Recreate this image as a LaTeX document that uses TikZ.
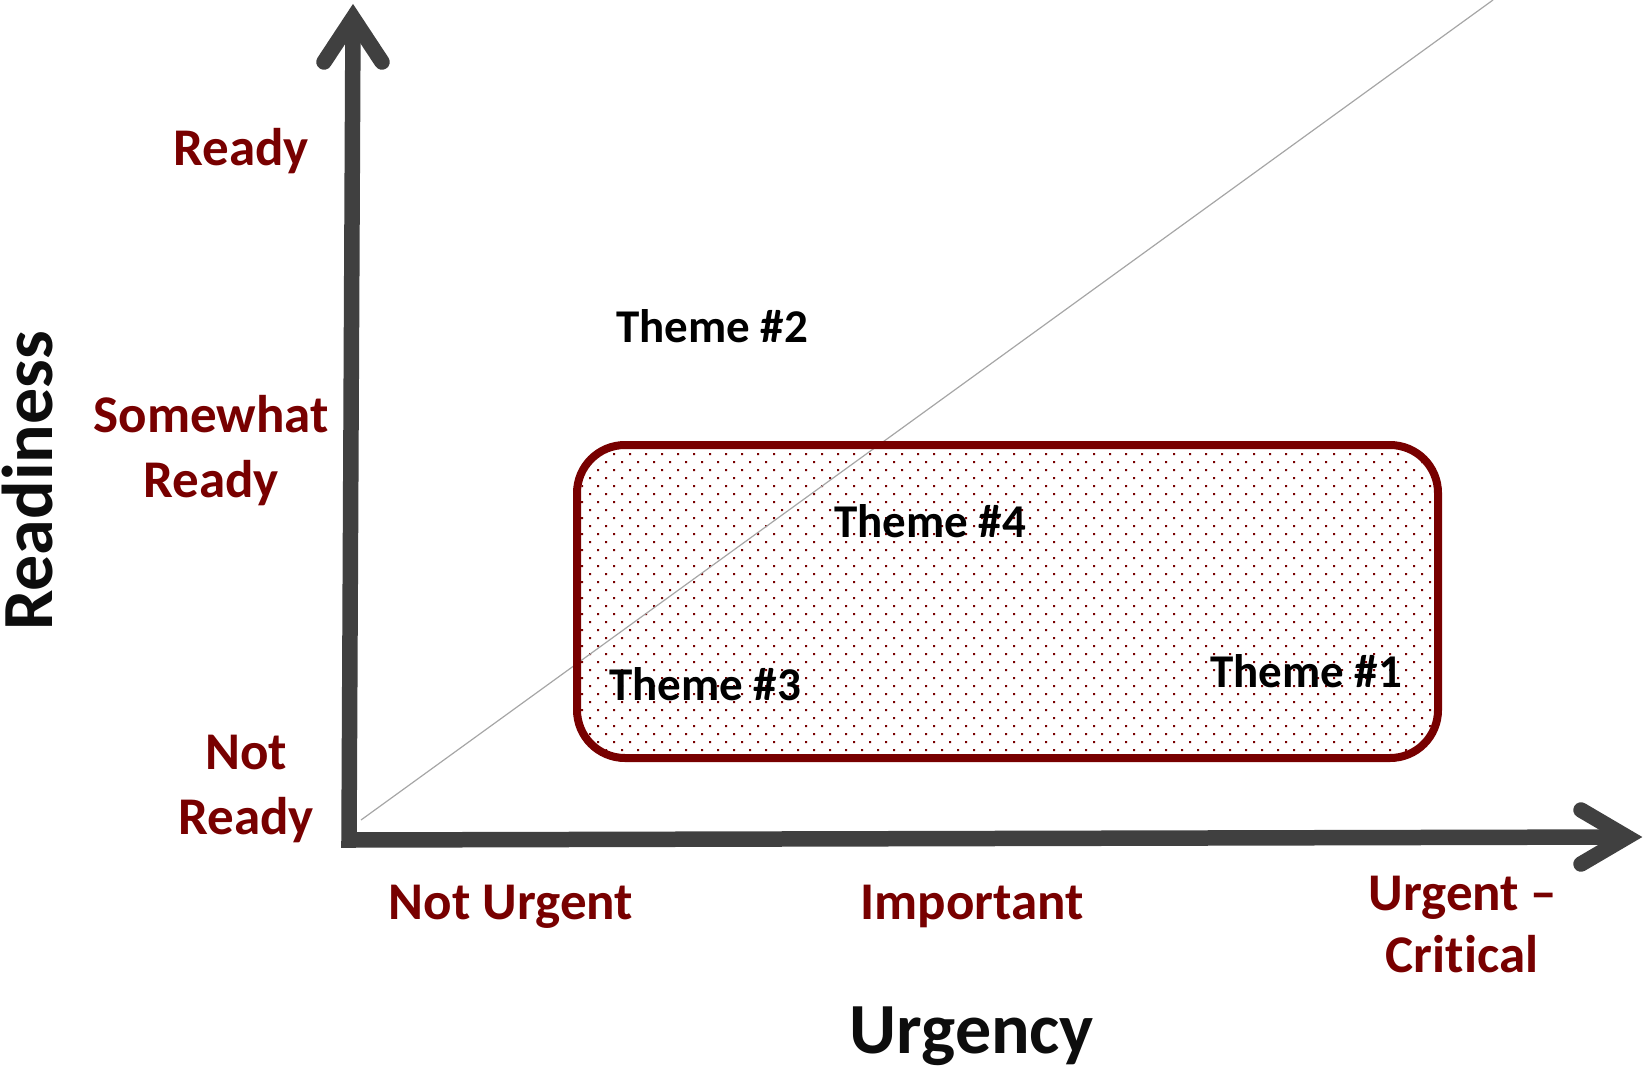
\documentclass[tikz,border=0pt]{standalone}
\usepackage{fontspec}
\setmainfont{Carlito}[Ligatures={NoCommon,TeX}]
\definecolor{dred}{RGB}{120,0,0}
\definecolor{axisgray}{RGB}{64,64,64}
\definecolor{diaggray}{RGB}{166,166,166}
\tikzset{
  lab/.style={font=\fontsize{53}{60}\selectfont\bfseries, text=dred, inner sep=0pt, anchor=base},
  theme/.style={font=\fontsize{47}{54}\selectfont\bfseries, text=black, inner sep=0pt, anchor=base},
  axtitle/.style={font=\fontsize{72}{80}\selectfont\bfseries, text=black!95, inner sep=0pt, anchor=base},
  axisline/.style={draw=axisgray, line width=15.5pt, line join=miter, miter limit=10},
  axishead/.style={draw=axisgray, line width=15.5pt, line join=miter, miter limit=10, line cap=round},
  zone/.style={draw=dred, line width=8pt, rounded corners=48pt},
}
\begin{document}
\begin{tikzpicture}[x=1pt,y=-1pt]
\useasboundingbox (0,0) rectangle (1645,1066);
% coordinates
\coordinate (ytip) at (353,18);
\coordinate (origin) at (349,840);
\coordinate (xtip) at (1627,837);
\coordinate (yw1) at (324,62);
\coordinate (yw2) at (382,62);
\coordinate (xw1) at (1581,810);
\coordinate (xw2) at (1581,864);
\coordinate (dstart) at (361,820);
\coordinate (dend) at (1493,0);
% dotted zone
\begin{scope}
  \clip[rounded corners=44pt] (581,449) rectangle (1434,754);
  \foreach \r in {0,...,39}{
    \pgfmathsetmacro\yy{446+8*\r}
    \pgfmathsetmacro\xs{mod(\r,2)==0 ? 590 : 582}
    \fill[dred] \foreach \c in {0,...,54}{ (\xs+16*\c-1,\yy-1) rectangle ++(2,2) };
  }
\end{scope}
% diagonal
\draw[diaggray, line width=1.2pt] (dstart) -- (dend);
% zone border
\draw[zone] (577,445) rectangle (1438,758);
% axes
\draw[axisline] (ytip) -- (origin) -- (xtip);
\draw[axishead] (yw1) -- (ytip) -- (yw2);
\draw[axishead] (xw1) -- (xtip) -- (xw2);
% readiness labels
\node[lab] (ready) at (241,165) {Ready};
\node[lab] (sw1) at (211,432) {Somewhat};
\node[lab] (sw2) at (211,497) {Ready};
\node[lab] (nr1) at (246,769) {Not};
\node[lab] (nr2) at (246,834) {Ready};
% urgency labels
\node[lab] (nu) at (511,919) {Not Urgent};
\node[lab] (imp) at (972,919) {Important};
\node[lab] (uc1) at (1463,910) {Urgent –};
\node[lab] (uc2) at (1462,972) {Critical};
% axis titles
\node[axtitle] (urg) at (972,1053) {Urgency};
\node[axtitle, rotate=90] (rdy) at (52,481) {Readiness};
% themes
\node[theme] (t2) at (712,342) {Theme \#2};
\node[theme] (t4) at (930,537) {Theme \#4};
\node[theme] (t3) at (705,700) {Theme \#3};
\node[theme] (t1) at (1306,687) {Theme \#1};
\end{tikzpicture}
\end{document}
